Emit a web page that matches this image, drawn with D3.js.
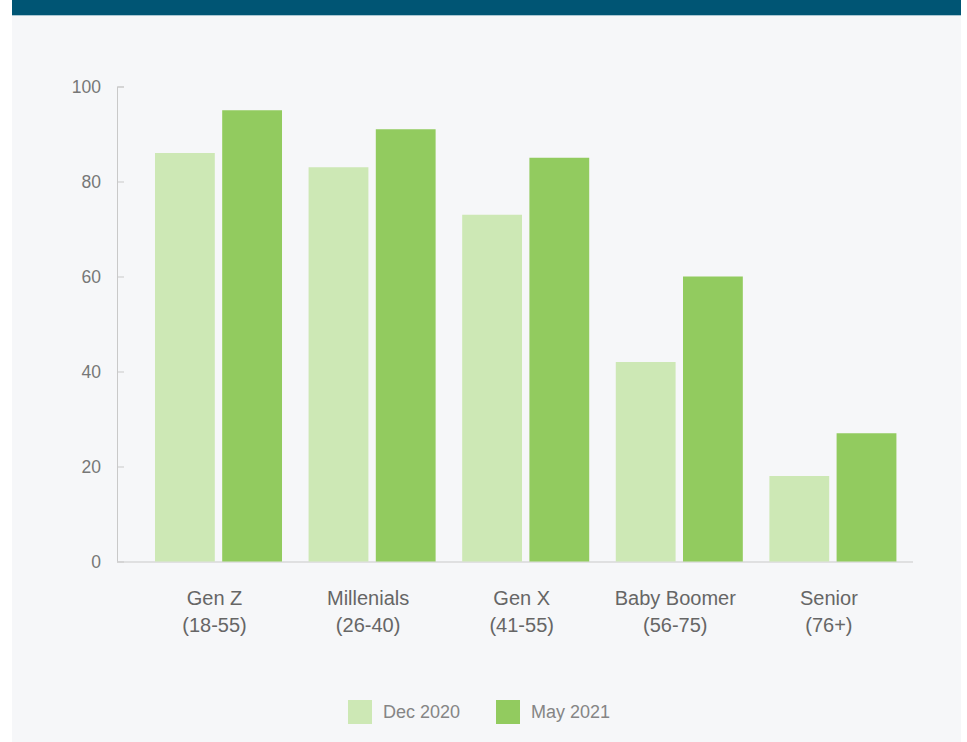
<!DOCTYPE html>
<html lang="en">
<head>
  <meta charset="UTF-8">
  <title>Generations Bar Chart</title>
  <script src="https://cdn.jsdelivr.net/npm/d3@7"></script>
<style>
  body, html {
    margin: 0;
    padding: 0;
    background: #ffffff;
    font-family: 'Liberation Sans', Arial, Helvetica, sans-serif;
  }
  svg { display: block; }
  .axis path, .axis line { stroke: #c9c9c9; }
  .axis text { fill: #777; font-size: 17.5px; }
</style>
</head>
<body>
  <svg width="967" height="742"></svg>
  <script>
    // data
    const categories = ["Gen Z", "Millenials", "Gen X", "Baby Boomer", "Senior"];
    const ageRanges  = ["(18-55)", "(26-40)", "(41-55)", "(56-75)", "(76+)"];
    const seriesNames = ["Dec 2020", "May 2021"];
    const dec2020 = [86, 83, 73, 42, 18];
    const may2021 = [95, 91, 85, 60, 27];
    const yTicks = [0, 20, 40, 60, 80, 100];
    const colors = ["#cde8b5", "#92cb5f"];

    const svg = d3.select("svg");

    // panel + header strip
    svg.append("rect").attr("x", 12).attr("y", 0).attr("width", 949).attr("height", 742)
       .attr("fill", "#f6f7f9");
    svg.append("rect").attr("x", 12).attr("y", 0).attr("width", 949).attr("height", 15)
       .attr("fill", "#005574");
    svg.append("line").attr("x1", 12).attr("x2", 961).attr("y1", 15.5).attr("y2", 15.5)
       .attr("stroke", "#a9c7d3").attr("stroke-width", 1);

    const margin = {top: 86.5, left: 117, right: 54, bottom: 180.5};
    const width = 967 - margin.left - margin.right,
          height = 742 - margin.top - margin.bottom;

    const g = svg.append("g").attr("transform", `translate(${margin.left},${margin.top})`);

    const y = d3.scaleLinear().domain([0, 100]).range([height, 0]);
    const x0 = d3.scaleBand().domain(categories).range([24.7, 792.7])
                 .paddingInner(0.173).paddingOuter(0.0865);
    const x1 = d3.scaleBand().domain(seriesNames).range([0, x0.bandwidth()]).paddingInner(0.11);

    // y axis
    const yAxis = g.append("g").attr("class", "axis")
      .call(d3.axisRight(y).tickValues(yTicks).tickSize(7).tickFormat(d3.format("d")));
    yAxis.select(".domain").attr("d", `M7,0.5H0.5V${height}`);
    yAxis.selectAll("text").attr("x", -16).attr("text-anchor", "end").attr("dy", "0.32em");

    // x axis line
    g.append("line").attr("x1", 0).attr("x2", width).attr("y1", height + 0.5).attr("y2", height + 0.5)
      .attr("stroke", "#c9c9c9");

    // bars
    const rows = categories.map((c, i) => ({cat: c, values: [dec2020[i], may2021[i]]}));
    const grp = g.selectAll(".grp").data(rows).enter().append("g")
      .attr("transform", d => `translate(${x0(d.cat)},0)`);
    grp.selectAll("rect")
      .data(d => d.values.map((v, j) => ({s: seriesNames[j], v: v, j: j})))
      .enter().append("rect")
        .attr("x", d => x1(d.s))
        .attr("y", d => y(d.v))
        .attr("width", x1.bandwidth())
        .attr("height", d => height - y(d.v))
        .attr("fill", d => colors[d.j]);

    // category labels
    const lab = g.selectAll(".lab").data(categories).enter().append("text")
      .attr("x", d => x0(d) + x0.bandwidth() / 2 - 4)
      .attr("y", height + 43)
      .attr("text-anchor", "middle")
      .attr("fill", "#666")
      .style("font-size", "20px");
    lab.append("tspan").text(d => d);
    lab.append("tspan").attr("x", d => x0(d) + x0.bandwidth() / 2 - 4).attr("dy", 27)
      .text((d, i) => ageRanges[i]);

    // legend
    const legendX = [348, 496];
    const legend = svg.append("g");
    seriesNames.forEach((s, i) => {
      legend.append("rect").attr("x", legendX[i]).attr("y", 700).attr("width", 24).attr("height", 24)
        .attr("fill", colors[i]);
      legend.append("text").attr("x", legendX[i] + 35).attr("y", 718)
        .attr("fill", "#858585").style("font-size", "18px").text(s);
    });
  </script>
</body>
</html>
